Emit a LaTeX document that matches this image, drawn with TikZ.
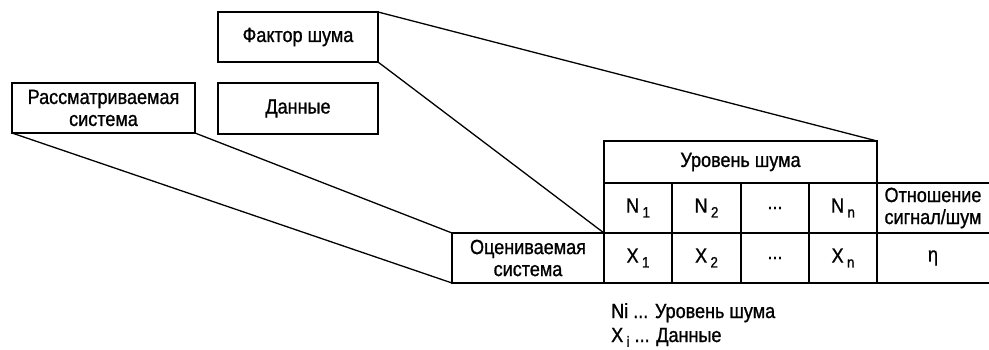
\documentclass[tikz,border=0pt]{standalone}
\usepackage{fontspec}
\setmainfont[FakeStretch=0.88,FakeBold=1]{Liberation Sans}
\newcommand\subsc[1]{\,\raisebox{-0.45ex}{\fontsize{15}{15}\selectfont #1}}
\begin{document}
\begin{tikzpicture}[x=1pt,y=-1pt,
  every node/.style={font=\fontsize{20.5}{22}\selectfont},
  box/.style={draw, line width=1.3pt, inner sep=0pt, outer sep=0pt, anchor=north west, align=center},
  cell/.style={box, minimum width=#1, minimum height=50pt},
  plain/.style={inner sep=0pt, outer sep=0pt, anchor=north west, align=center},
  conn/.style={line width=1.3pt}]
\useasboundingbox[fill=white] (0,0) rectangle (989,349);
% upper boxes
\node[box, minimum width=160pt, minimum height=50pt] (factor) at (218,12) {Фактор шума};
\node[box, minimum width=160pt, minimum height=51pt] (data) at (218,83) {Данные};
\node[box, minimum width=183pt, minimum height=50pt] (sys) at (12,83) {Рассматриваемая\\система};
% table
\node[box, minimum width=152pt, minimum height=50pt] (eval) at (452,233) {Оцениваемая\\система};
\node[box, minimum width=273pt, minimum height=42pt] (head) at (604,141) {Уровень шума};
\node[cell=68pt] (n1) at (604,183) {N\subsc{1}};
\node[cell=69pt] (n2) at (672,183) {N\subsc{2}};
\node[cell=68pt] (n3) at (741,183) {...};
\node[cell=68pt] (nn) at (809,183) {N\subsc{n}};
\node[cell=68pt] (x1) at (604,233) {X\subsc{1}};
\node[cell=69pt] (x2) at (672,233) {X\subsc{2}};
\node[cell=68pt] (x3) at (741,233) {...};
\node[cell=68pt] (xn) at (809,233) {X\subsc{n}};
\node[plain, minimum width=112pt, minimum height=50pt] (ratio) at (877,183) {Отношение\\сигнал/шум};
\node[plain, minimum width=112pt, minimum height=50pt] (eta) at (877,233) {η};
\draw[conn] (ratio.north west) -- (ratio.north east);
\draw[conn] (ratio.south west) -- (ratio.south east);
\draw[conn] (eta.south west) -- (eta.south east);
% connectors
\draw[conn] (factor.north east) -- (head.north east);
\draw[conn] (factor.south east) -- (eval.north east);
\draw[conn] (sys.south west) -- (eval.south west);
\draw[conn] (sys.south east) -- (eval.north west);
% legend
\node[anchor=base west, inner sep=0pt] (leg1) at (611,318) {Ni ... Уровень шума};
\node[anchor=base west, inner sep=0pt] (leg2) at (611,342) {X\subsc{i} ... Данные};
\end{tikzpicture}
\end{document}
